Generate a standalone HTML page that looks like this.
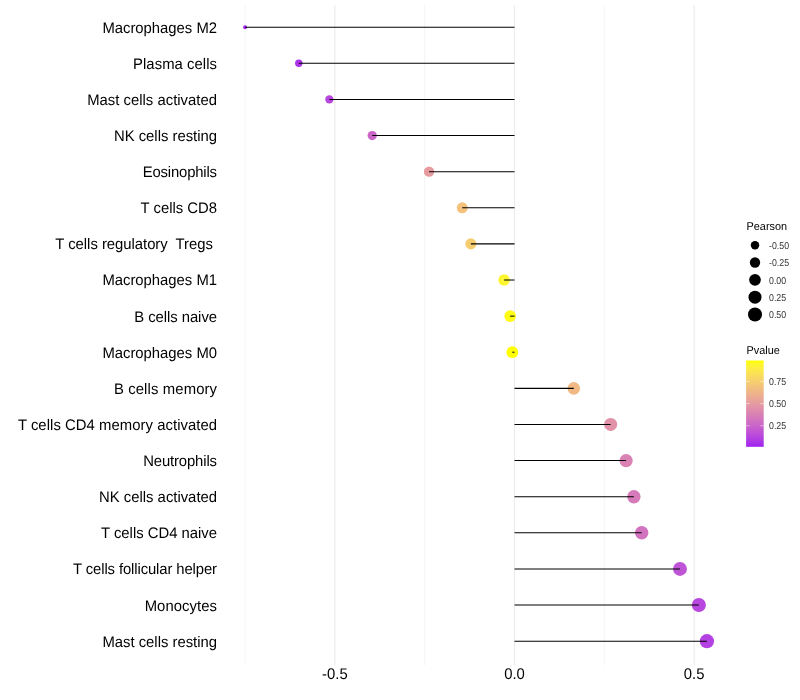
<!DOCTYPE html><html><head><meta charset="utf-8"><style>html,body{margin:0;padding:0;background:#fff;}svg{display:block;}text{font-family:"Liberation Sans",Arial,sans-serif;text-rendering:geometricPrecision;}</style></head><body>
<svg width="800" height="700" viewBox="0 0 800 700">
<rect width="800" height="700" fill="#fff"/>
<line x1="245.02" y1="5" x2="245.02" y2="665.3" stroke="#ebebeb" stroke-width="0.53"/>
<line x1="334.85" y1="5" x2="334.85" y2="665.3" stroke="#ebebeb" stroke-width="1.07"/>
<line x1="424.68" y1="5" x2="424.68" y2="665.3" stroke="#ebebeb" stroke-width="0.53"/>
<line x1="514.50" y1="5" x2="514.50" y2="665.3" stroke="#ebebeb" stroke-width="1.07"/>
<line x1="604.33" y1="5" x2="604.33" y2="665.3" stroke="#ebebeb" stroke-width="0.53"/>
<line x1="694.15" y1="5" x2="694.15" y2="665.3" stroke="#ebebeb" stroke-width="1.07"/>
<circle cx="245.10" cy="27.18" r="1.95" fill="#a020f0"/>
<circle cx="298.81" cy="63.30" r="3.71" fill="#ab34e8"/>
<circle cx="329.39" cy="99.42" r="4.15" fill="#b746de"/>
<circle cx="372.22" cy="135.53" r="4.65" fill="#cb66c9"/>
<circle cx="429.06" cy="171.65" r="5.20" fill="#e69c9f"/>
<circle cx="462.22" cy="207.77" r="5.48" fill="#f3c27c"/>
<circle cx="470.85" cy="243.89" r="5.55" fill="#f6cc71"/>
<circle cx="504.08" cy="280.01" r="5.81" fill="#fef531"/>
<circle cx="510.19" cy="316.12" r="5.85" fill="#fffc16"/>
<circle cx="512.34" cy="352.24" r="5.87" fill="#ffff00"/>
<circle cx="573.78" cy="388.36" r="6.29" fill="#f1ba84"/>
<circle cx="610.65" cy="424.48" r="6.53" fill="#e191a8"/>
<circle cx="626.10" cy="460.60" r="6.63" fill="#da82b4"/>
<circle cx="633.90" cy="496.71" r="6.68" fill="#d67aba"/>
<circle cx="641.69" cy="532.83" r="6.72" fill="#d273c0"/>
<circle cx="679.99" cy="568.95" r="6.95" fill="#bf54d6"/>
<circle cx="698.86" cy="605.07" r="7.05" fill="#b747de"/>
<circle cx="706.91" cy="641.19" r="7.10" fill="#b441e1"/>
<line x1="514.50" y1="27.18" x2="245.10" y2="27.18" stroke="#000" stroke-width="1.04"/>
<line x1="514.50" y1="63.30" x2="298.81" y2="63.30" stroke="#000" stroke-width="1.04"/>
<line x1="514.50" y1="99.42" x2="329.39" y2="99.42" stroke="#000" stroke-width="1.04"/>
<line x1="514.50" y1="135.53" x2="372.22" y2="135.53" stroke="#000" stroke-width="1.04"/>
<line x1="514.50" y1="171.65" x2="429.06" y2="171.65" stroke="#000" stroke-width="1.04"/>
<line x1="514.50" y1="207.77" x2="462.22" y2="207.77" stroke="#000" stroke-width="1.04"/>
<line x1="514.50" y1="243.89" x2="470.85" y2="243.89" stroke="#000" stroke-width="1.04"/>
<line x1="514.50" y1="280.01" x2="504.08" y2="280.01" stroke="#000" stroke-width="1.04"/>
<line x1="514.50" y1="316.12" x2="510.19" y2="316.12" stroke="#000" stroke-width="1.04"/>
<line x1="514.50" y1="352.24" x2="512.34" y2="352.24" stroke="#000" stroke-width="1.04"/>
<line x1="514.50" y1="388.36" x2="573.78" y2="388.36" stroke="#000" stroke-width="1.04"/>
<line x1="514.50" y1="424.48" x2="610.65" y2="424.48" stroke="#000" stroke-width="1.04"/>
<line x1="514.50" y1="460.60" x2="626.10" y2="460.60" stroke="#000" stroke-width="1.04"/>
<line x1="514.50" y1="496.71" x2="633.90" y2="496.71" stroke="#000" stroke-width="1.04"/>
<line x1="514.50" y1="532.83" x2="641.69" y2="532.83" stroke="#000" stroke-width="1.04"/>
<line x1="514.50" y1="568.95" x2="679.99" y2="568.95" stroke="#000" stroke-width="1.04"/>
<line x1="514.50" y1="605.07" x2="698.86" y2="605.07" stroke="#000" stroke-width="1.04"/>
<line x1="514.50" y1="641.19" x2="706.91" y2="641.19" stroke="#000" stroke-width="1.04"/>
<text transform="translate(217 33) scale(1 1.03)" font-size="14.85" text-anchor="end" fill="#000" xml:space="preserve" textLength="114.64" lengthAdjust="spacing">Macrophages M2</text>
<text transform="translate(217 69) scale(1 1.03)" font-size="14.85" text-anchor="end" fill="#000" xml:space="preserve" textLength="83.99" lengthAdjust="spacing">Plasma cells</text>
<text transform="translate(217 105) scale(1 1.03)" font-size="14.85" text-anchor="end" fill="#000" xml:space="preserve" textLength="129.88" lengthAdjust="spacing">Mast cells activated</text>
<text transform="translate(217 141) scale(1 1.03)" font-size="14.85" text-anchor="end" fill="#000" xml:space="preserve" textLength="103.08" lengthAdjust="spacing">NK cells resting</text>
<text transform="translate(217 177) scale(1 1.03)" font-size="14.85" text-anchor="end" fill="#000" xml:space="preserve" textLength="74.20" lengthAdjust="spacing">Eosinophils</text>
<text transform="translate(217 213) scale(1 1.03)" font-size="14.85" text-anchor="end" fill="#000" xml:space="preserve" textLength="76.42" lengthAdjust="spacing">T cells CD8</text>
<text transform="translate(217 249) scale(1 1.03)" font-size="14.85" text-anchor="end" fill="#000" xml:space="preserve" textLength="161.69" lengthAdjust="spacing">T cells regulatory&#160; Tregs </text>
<text transform="translate(217 285) scale(1 1.03)" font-size="14.85" text-anchor="end" fill="#000" xml:space="preserve" textLength="114.64" lengthAdjust="spacing">Macrophages M1</text>
<text transform="translate(217 322) scale(1 1.03)" font-size="14.85" text-anchor="end" fill="#000" xml:space="preserve" textLength="82.80" lengthAdjust="spacing">B cells naive</text>
<text transform="translate(217 358) scale(1 1.03)" font-size="14.85" text-anchor="end" fill="#000" xml:space="preserve" textLength="114.64" lengthAdjust="spacing">Macrophages M0</text>
<text transform="translate(217 394) scale(1 1.03)" font-size="14.85" text-anchor="end" fill="#000" xml:space="preserve" textLength="103.12" lengthAdjust="spacing">B cells memory</text>
<text transform="translate(217 430) scale(1 1.03)" font-size="14.85" text-anchor="end" fill="#000" xml:space="preserve" textLength="199.14" lengthAdjust="spacing">T cells CD4 memory activated</text>
<text transform="translate(217 466) scale(1 1.03)" font-size="14.85" text-anchor="end" fill="#000" xml:space="preserve" textLength="73.87" lengthAdjust="spacing">Neutrophils</text>
<text transform="translate(217 502) scale(1 1.03)" font-size="14.85" text-anchor="end" fill="#000" xml:space="preserve" textLength="117.94" lengthAdjust="spacing">NK cells activated</text>
<text transform="translate(217 538) scale(1 1.03)" font-size="14.85" text-anchor="end" fill="#000" xml:space="preserve" textLength="116.01" lengthAdjust="spacing">T cells CD4 naive</text>
<text transform="translate(217 574) scale(1 1.03)" font-size="14.85" text-anchor="end" fill="#000" xml:space="preserve" textLength="143.94" lengthAdjust="spacing">T cells follicular helper</text>
<text transform="translate(217 611) scale(1 1.03)" font-size="14.85" text-anchor="end" fill="#000" xml:space="preserve" textLength="72.36" lengthAdjust="spacing">Monocytes</text>
<text transform="translate(217 647) scale(1 1.03)" font-size="14.85" text-anchor="end" fill="#000" xml:space="preserve" textLength="114.63" lengthAdjust="spacing">Mast cells resting</text>
<text transform="translate(334.85 679) scale(1 1.04)" font-size="14.85" text-anchor="middle" fill="#000">-0.5</text>
<text transform="translate(514.50 679) scale(1 1.04)" font-size="14.85" text-anchor="middle" fill="#000">0.0</text>
<text transform="translate(694.15 679) scale(1 1.04)" font-size="14.85" text-anchor="middle" fill="#000">0.5</text>
<text transform="translate(746.5 229.8) scale(1 1.04)" font-size="10.9" fill="#000">Pearson</text>
<circle cx="755.0" cy="245.20" r="4.22" fill="#000"/>
<text transform="translate(769 249) scale(1 1.14)" font-size="8.8" fill="#333">-0.50</text>
<circle cx="755.0" cy="262.52" r="5.16" fill="#000"/>
<text transform="translate(769 266) scale(1 1.14)" font-size="8.8" fill="#333">-0.25</text>
<circle cx="755.0" cy="279.84" r="5.88" fill="#000"/>
<text transform="translate(769 284) scale(1 1.14)" font-size="8.8" fill="#333">0.00</text>
<circle cx="755.0" cy="297.16" r="6.49" fill="#000"/>
<text transform="translate(769 301) scale(1 1.14)" font-size="8.8" fill="#333">0.25</text>
<circle cx="755.0" cy="314.48" r="7.03" fill="#000"/>
<text transform="translate(769 318) scale(1 1.14)" font-size="8.8" fill="#333">0.50</text>
<text transform="translate(746.5 353.9) scale(1 1.04)" font-size="10.9" fill="#000">Pvalue</text>
<defs><linearGradient id="g" x1="0" y1="0" x2="0" y2="1"><stop offset="0.000" stop-color="#ffff00"/><stop offset="0.050" stop-color="#fef530"/><stop offset="0.100" stop-color="#fceb46"/><stop offset="0.150" stop-color="#fbe156"/><stop offset="0.200" stop-color="#f8d763"/><stop offset="0.250" stop-color="#f6cd6f"/><stop offset="0.300" stop-color="#f3c37a"/><stop offset="0.350" stop-color="#f0b984"/><stop offset="0.400" stop-color="#edaf8e"/><stop offset="0.450" stop-color="#e9a597"/><stop offset="0.500" stop-color="#e59ba0"/><stop offset="0.550" stop-color="#e190a9"/><stop offset="0.600" stop-color="#dc86b1"/><stop offset="0.650" stop-color="#d67bb9"/><stop offset="0.700" stop-color="#d171c1"/><stop offset="0.750" stop-color="#ca66c9"/><stop offset="0.800" stop-color="#c35ad1"/><stop offset="0.850" stop-color="#bc4ed9"/><stop offset="0.900" stop-color="#b441e1"/><stop offset="0.950" stop-color="#aa33e8"/><stop offset="1.000" stop-color="#a020f0"/></linearGradient></defs>
<rect x="746.1" y="360.5" width="17.6" height="86.30" fill="url(#g)"/>
<line x1="746.1" y1="425.77" x2="749.6" y2="425.77" stroke="#fff" stroke-width="0.5"/>
<line x1="760.2" y1="425.77" x2="763.7" y2="425.77" stroke="#fff" stroke-width="0.5"/>
<text transform="translate(769 429) scale(1 1.14)" font-size="8.8" fill="#333">0.25</text>
<line x1="746.1" y1="403.62" x2="749.6" y2="403.62" stroke="#fff" stroke-width="0.5"/>
<line x1="760.2" y1="403.62" x2="763.7" y2="403.62" stroke="#fff" stroke-width="0.5"/>
<text transform="translate(769 407) scale(1 1.14)" font-size="8.8" fill="#333">0.50</text>
<line x1="746.1" y1="381.48" x2="749.6" y2="381.48" stroke="#fff" stroke-width="0.5"/>
<line x1="760.2" y1="381.48" x2="763.7" y2="381.48" stroke="#fff" stroke-width="0.5"/>
<text transform="translate(769 385) scale(1 1.14)" font-size="8.8" fill="#333">0.75</text>
</svg></body></html>
